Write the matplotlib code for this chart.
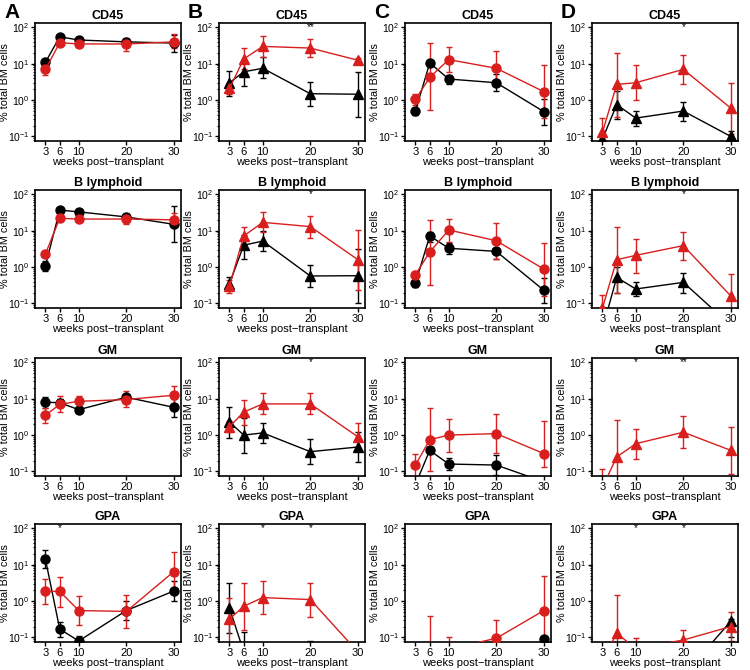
import numpy as np
import matplotlib.pyplot as plt
from matplotlib.ticker import LogLocator, NullFormatter

plt.rcParams['font.family'] = ['Liberation Sans', 'DejaVu Sans']
plt.rcParams['mathtext.fontset'] = 'custom'
plt.rcParams['mathtext.rm'] = 'Liberation Sans'
plt.rcParams['mathtext.it'] = 'Liberation Sans:italic'
plt.rcParams['mathtext.bf'] = 'Liberation Sans:bold'

nan = np.nan
weeks = [3, 6, 10, 20, 30]
row_titles = ["CD45", "B lymphoid", "GM", "GPA"]
col_letters = ["A", "B", "C", "D"]

# (mean, low, high) per time point; black = control, red = treated
cd45_A_blk = [(11, 9, 13.5), (55, 50, 60), (45, 40, 50), (40, 35, 48), (37, 21, 62)]
cd45_A_red = [(7, 5, 10), (38, 33, 45), (35, 28, 45), (35, 23, 50), (40, 27, 65)]
cd45_B_blk = [(3, 1.3, 6.5), (6, 2.4, 13), (7.5, 4, 15), (1.5, 0.7, 3.1), (1.45, 0.35, 6)]
cd45_B_red = [(2.1, 1.5, 3), (13.5, 7, 27), (30, 15, 58), (27, 15, 47), (12.5, 11, 14.5)]
cd45_C_blk = [(0.5, 0.38, 0.62), (10.5, 9, 12), (3.8, 2.8, 5), (3, 1.8, 5.2), (0.48, 0.21, 1.1)]
cd45_C_red = [(1.05, 0.75, 1.5), (4.2, 0.55, 38), (13, 6, 28), (7.5, 3, 22), (1.7, 0.33, 9)]
cd45_D_blk = [(0.085, 0.06, 0.11), (0.75, 0.3, 1.8), (0.32, 0.2, 0.5), (0.5, 0.27, 0.9), (0.1, 0.08, 0.14)]
cd45_D_red = [(0.13, 0.07, 0.32), (2.7, 0.35, 20), (3, 1, 9), (7, 2.8, 17), (0.6, 0.12, 3)]

blym_A_blk = [(1.1, 0.8, 1.5), (37, 31, 42), (33, 27, 40), (24, 20, 28), (15, 5, 48)]
blym_A_red = [(2.3, 1.9, 2.8), (22, 18, 27), (21, 17, 26), (21, 15, 28), (20, 13, 30)]
blym_B_blk = [(0.35, 0.25, 0.55), (4, 1.7, 7.5), (5.2, 2.7, 10), (0.57, 0.29, 1.15), (0.58, 0.1, 3.2)]
blym_B_red = [(0.3, 0.19, 0.45), (7.2, 4, 13), (17, 9, 33), (13, 6.5, 26), (1.6, 0.23, 10.5)]
blym_C_blk = [(0.36, 0.28, 0.45), (7.2, 5, 9.5), (3.3, 2.3, 4.5), (2.7, 1.7, 4.2), (0.23, 0.1, 0.5)]
blym_C_red = [(0.62, 0.5, 0.78), (2.6, 0.33, 20), (10.5, 5, 21), (5.3, 1.7, 16), (0.88, 0.16, 4.6)]
blym_D_blk = [(0.02, 0.01, 0.04), (0.52, 0.2, 1), (0.25, 0.16, 0.4), (0.38, 0.2, 0.7), (0.025, 0.01, 0.05)]
blym_D_red = [(0.075, 0.03, 0.17), (1.6, 0.19, 13), (2.1, 0.7, 6), (3.9, 1.6, 9), (0.16, 0.04, 0.65)]

gm_A_blk = [(8, 5.5, 11.5), (7.8, 6, 10), (5, 4.3, 6), (11, 9, 13), (5.8, 3.2, 10)]
gm_A_red = [(3.5, 2.2, 5.5), (7, 4.2, 12), (8.5, 5.5, 12), (9.5, 6, 16), (12.5, 7, 23)]
gm_B_blk = [(2.3, 0.85, 5.8), (1, 0.32, 3), (1.15, 0.62, 2.1), (0.35, 0.16, 0.8), (0.47, 0.18, 1.2)]
gm_B_red = [(1.7, 1.2, 2.5), (4.3, 1.9, 9.3), (7.2, 3.8, 14), (7.2, 3.8, 14), (0.9, 0.37, 2.1)]
gm_C_blk = [(0.044, 0.02, 0.07), (0.38, 0.3, 0.45), (0.16, 0.11, 0.24), (0.15, 0.08, 0.29), (0.052, 0.02, 0.07)]
gm_C_red = [(0.15, 0.06, 0.3), (0.75, 0.1, 5.5), (1, 0.35, 2.7), (1.1, 0.33, 3.7), (0.31, 0.13, 2.5)]
gm_D_blk = [(nan, nan, nan)] * 5
gm_D_red = [(0.037, 0.01, 0.12), (0.25, 0.05, 2.6), (0.58, 0.22, 1.5), (1.2, 0.45, 3.4), (0.38, 0.085, 1.65)]

gpa_A_blk = [(14, 8, 26), (0.17, 0.1, 0.26), (0.08, 0.065, 0.11), (0.55, 0.3, 1), (1.9, 1, 3.5)]
gpa_A_red = [(1.85, 0.85, 4), (1.85, 0.7, 4.7), (0.55, 0.22, 1.35), (0.52, 0.18, 1.5), (6.5, 2, 23)]
gpa_B_blk = [(0.65, 0.13, 3.2), (0.04, 0.01, 0.14), (nan, nan, nan), (0.01, 0.001, 0.08), (nan, nan, nan)]
gpa_B_red = [(0.32, 0.02, 1.25), (0.72, 0.16, 3.2), (1.25, 0.45, 3.5), (1.1, 0.37, 3.2), (0.04, 0.01, 0.07)]
gpa_C_blk = [(nan, nan, nan), (nan, nan, nan), (nan, nan, nan), (nan, nan, nan), (0.092, 0.08, 0.11)]
gpa_C_red = [(nan, nan, nan), (0.02, 0.005, 0.38), (0.048, 0.01, 0.1), (0.095, 0.02, 0.31), (0.55, 0.06, 4.8)]
gpa_D_blk = [(nan, nan, nan), (nan, nan, nan), (nan, nan, nan), (0.009, nan, nan), (0.28, 0.1, 0.33)]
gpa_D_red = [(0.023, 0.005, 0.06), (0.13, 0.01, 1.5), (0.05, 0.01, 0.095), (0.085, 0.03, 0.16), (0.2, 0.08, 0.5)]

panels = [
    [(cd45_A_blk, cd45_A_red), (cd45_B_blk, cd45_B_red), (cd45_C_blk, cd45_C_red), (cd45_D_blk, cd45_D_red)],
    [(blym_A_blk, blym_A_red), (blym_B_blk, blym_B_red), (blym_C_blk, blym_C_red), (blym_D_blk, blym_D_red)],
    [(gm_A_blk, gm_A_red), (gm_B_blk, gm_B_red), (gm_C_blk, gm_C_red), (gm_D_blk, gm_D_red)],
    [(gpa_A_blk, gpa_A_red), (gpa_B_blk, gpa_B_red), (gpa_C_blk, gpa_C_red), (gpa_D_blk, gpa_D_red)],
]

# significance marks: (row, col) -> [(week, label)]
stars = {
    (0, 1): [(20, "**")], (0, 3): [(20, "*")],
    (1, 1): [(20, "*")], (1, 3): [(20, "*")],
    (2, 1): [(20, "*")], (2, 3): [(10, "*"), (20, "**")],
    (3, 0): [(6, "*")], (3, 1): [(10, "*"), (20, "*")], (3, 3): [(10, "*"), (20, "*")],
}

RED = '#d91e1e'
col_left = [35, 219, 405, 592]
row_top = [23, 190, 358, 524]
W, H = 146, 118

fig = plt.figure(figsize=(7.5, 6.7), dpi=100)


def draw_series(ax, data, color, marker):
    arr = np.array(data, dtype=float)
    mean, lo, hi = arr[:, 0], arr[:, 1], arr[:, 2]
    x = np.array(weeks, dtype=float)
    ok = ~np.isnan(lo) & ~np.isnan(hi)
    if ok.any():
        ax.errorbar(x[ok], mean[ok], yerr=[mean[ok] - lo[ok], hi[ok] - mean[ok]],
                    fmt='none', ecolor=color, elinewidth=1.0, capsize=2.5, capthick=1.0, zorder=2)
    ax.plot(x, mean, color=color, lw=1.0, marker=marker, ms=6.5, mec=color, mfc=color, zorder=3)


for r in range(4):
    for c in range(4):
        ax = fig.add_axes([col_left[c] / 750, 1 - (row_top[r] + H) / 670, W / 750, H / 670])
        marker = 'o' if c in (0, 2) else '^'
        blk, red = panels[r][c]
        draw_series(ax, blk, 'black', marker)
        draw_series(ax, red, RED, marker)
        ax.set_yscale('log')
        ax.set_ylim(0.075, 132)
        ax.set_xlim(0.8, 31.5)
        ax.set_xticks(weeks)
        ax.set_xticklabels([str(w) for w in weeks])
        ax.set_yticks([0.1, 1, 10, 100])
        ax.set_yticklabels([r'$10^{-1}$', r'$10^{0}$', r'$10^{1}$', r'$10^{2}$'])
        ax.yaxis.set_minor_locator(LogLocator(base=10, subs=np.arange(2, 10)))
        ax.yaxis.set_minor_formatter(NullFormatter())
        ax.tick_params(axis='x', which='major', direction='out', length=3, width=1.0,
                       labelsize=8, pad=1.5)
        ax.tick_params(axis='y', which='major', direction='out', length=3, width=1.0,
                       labelsize=7.5, pad=1)
        ax.tick_params(axis='y', which='minor', direction='out', length=1.8, width=0.8)
        for s in ax.spines.values():
            s.set_linewidth(1.2)
        ax.set_title(row_titles[r], fontsize=9, fontweight='bold', pad=3)
        ax.set_xlabel("weeks post\u2212transplant", fontsize=8)
        ax.xaxis.set_label_coords(0.5, -0.135)
        ax.set_ylabel("% total BM cells", fontsize=7.8)
        ax.yaxis.set_label_coords(-0.172, 0.5)
        for wk, lab in stars.get((r, c), []):
            ax.text(wk, 100, lab, ha='center', va='center', fontsize=7)

for c, letter in enumerate(col_letters):
    fig.text((col_left[c] - 31) / 750, 1 - 12 / 670, letter, fontsize=15,
             fontweight='bold', va='center', ha='left')

fig.savefig('out.png', dpi=100)
